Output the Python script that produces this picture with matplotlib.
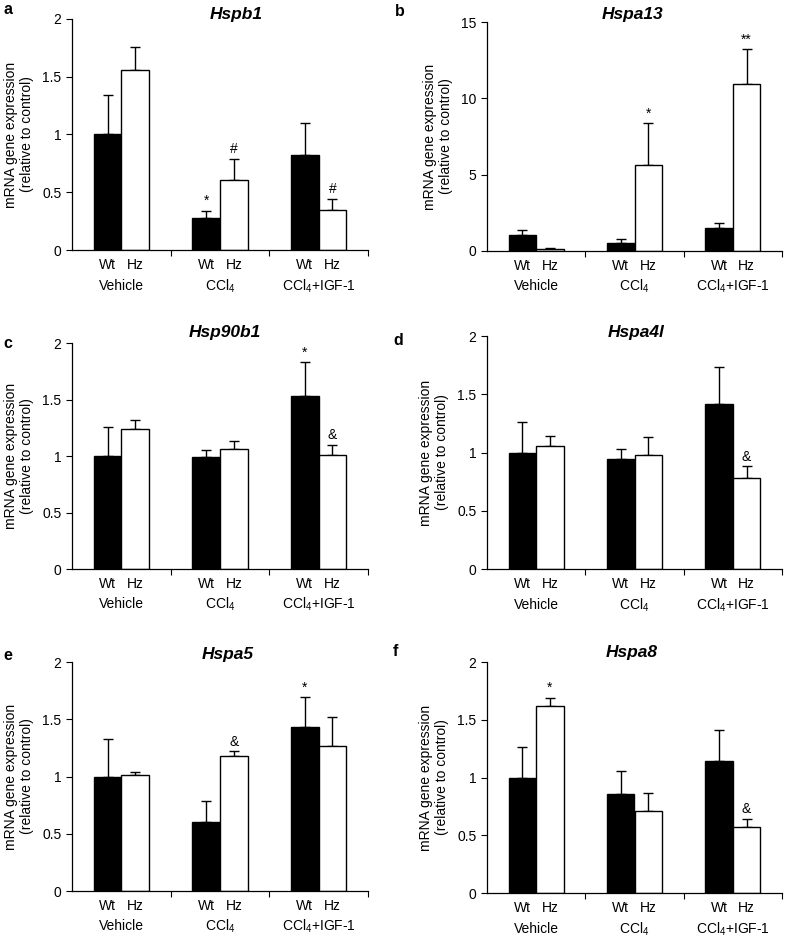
import numpy as np
import matplotlib.pyplot as plt

plt.rcParams['font.family'] = ['Liberation Sans', 'DejaVu Sans']
plt.rcParams['mathtext.fontset'] = 'custom'
plt.rcParams['mathtext.rm'] = 'Liberation Sans'
plt.rcParams['mathtext.it'] = 'Liberation Sans:italic'
plt.rcParams['mathtext.bf'] = 'Liberation Sans:bold'

groups = ['Vehicle', 'CCl$_4$', 'CCl$_4$+IGF-1']
genotypes = ['Wt', 'Hz']
panel_letters = ['a', 'b', 'c', 'd', 'e', 'f']
genes = ['Hspb1', 'Hspa13', 'Hsp90b1', 'Hspa4l', 'Hspa5', 'Hspa8']

# means per group (Vehicle, CCl4, CCl4+IGF-1)
hspb1_wt = [1.00, 0.28, 0.82]
hspb1_hz = [1.56, 0.61, 0.35]
hspa13_wt = [1.03, 0.55, 1.50]
hspa13_hz = [0.11, 5.65, 10.96]
hsp90b1_wt = [1.00, 0.99, 1.53]
hsp90b1_hz = [1.24, 1.06, 1.01]
hspa4l_wt = [1.00, 0.94, 1.42]
hspa4l_hz = [1.06, 0.98, 0.78]
hspa5_wt = [1.00, 0.60, 1.43]
hspa5_hz = [1.01, 1.18, 1.27]
hspa8_wt = [1.00, 0.86, 1.14]
hspa8_hz = [1.62, 0.71, 0.57]

# upper error (SEM)
hspb1_wt_err = [0.34, 0.06, 0.28]
hspb1_hz_err = [0.20, 0.18, 0.09]
hspa13_wt_err = [0.32, 0.21, 0.33]
hspa13_hz_err = [0.06, 2.73, 2.24]
hsp90b1_wt_err = [0.26, 0.06, 0.30]
hsp90b1_hz_err = [0.08, 0.07, 0.09]
hspa4l_wt_err = [0.26, 0.09, 0.31]
hspa4l_hz_err = [0.08, 0.15, 0.10]
hspa5_wt_err = [0.33, 0.19, 0.26]
hspa5_hz_err = [0.03, 0.04, 0.25]
hspa8_wt_err = [0.26, 0.20, 0.27]
hspa8_hz_err = [0.07, 0.16, 0.07]

# significance marks: (group index, genotype index, symbol)
hspb1_marks = [(1, 0, '*'), (1, 1, '#'), (2, 1, '#')]
hspa13_marks = [(1, 1, '*'), (2, 1, '**')]
hsp90b1_marks = [(2, 0, '*'), (2, 1, '&')]
hspa4l_marks = [(2, 1, '&')]
hspa5_marks = [(1, 1, '&'), (2, 0, '*')]
hspa8_marks = [(0, 1, '*'), (2, 1, '&')]

y_max = [2, 15, 2, 2, 2, 2]
y_step = [0.5, 5, 0.5, 0.5, 0.5, 0.5]

means = [(hspb1_wt, hspb1_hz), (hspa13_wt, hspa13_hz), (hsp90b1_wt, hsp90b1_hz),
         (hspa4l_wt, hspa4l_hz), (hspa5_wt, hspa5_hz), (hspa8_wt, hspa8_hz)]
errs = [(hspb1_wt_err, hspb1_hz_err), (hspa13_wt_err, hspa13_hz_err),
        (hsp90b1_wt_err, hsp90b1_hz_err), (hspa4l_wt_err, hspa4l_hz_err),
        (hspa5_wt_err, hspa5_hz_err), (hspa8_wt_err, hspa8_hz_err)]
marks = [hspb1_marks, hspa13_marks, hsp90b1_marks, hspa4l_marks, hspa5_marks, hspa8_marks]

W, H = 785, 938
fig = plt.figure(figsize=(W / 100, H / 100), dpi=100)

# axes boxes in pixels: left, right, top, bottom
boxes = [(72, 368, 19, 250), (487, 782, 22, 251),
         (72, 368, 343, 569), (487, 782, 336, 569),
         (72, 368, 662, 891), (487, 782, 662, 893)]
letter_pos = [(3, 10), (395, 12), (3, 343), (393, 340), (3, 655), (393, 652)]
title_pos = [(236, 15), (633, 15), (225, 332), (636, 332), (228, 655), (632, 653)]

bw = 0.28
x = np.arange(len(groups))

for i in range(6):
    l, r, t, b = boxes[i]
    ax = fig.add_axes([l / W, 1 - b / H, (r - l) / W, (b - t) / H])
    wt, hz = means[i]
    wt_e, hz_e = errs[i]
    for k, (vals, e, col) in enumerate([(wt, wt_e, 'black'), (hz, hz_e, 'white')]):
        pos = x + (k - 0.5) * bw
        ax.bar(pos, vals, width=bw, color=col, edgecolor='black', linewidth=1.0, zorder=2)
        ax.errorbar(pos, vals, yerr=[np.zeros(len(vals)), e], fmt='none', ecolor='black',
                    elinewidth=1.0, capsize=3.5, capthick=1.0, zorder=1)
    for g, k, sym in marks[i]:
        top = means[i][k][g] + errs[i][k][g]
        ax.annotate(sym, (x[g] + (k - 0.5) * bw, top), xytext=(0, 2), textcoords='offset points',
                    ha='center', va='bottom', fontsize=10)

    ax.set_xlim(-0.5, 2.5)
    ax.set_ylim(0, y_max[i])
    ticks = np.arange(0, y_max[i] + y_step[i] / 2, y_step[i])
    ax.set_yticks(ticks)
    ax.set_yticklabels([f'{v:g}' for v in ticks], fontsize=10)
    ax.set_xticks([0.5, 1.5, 2.5])
    ax.set_xticklabels([])
    ax.tick_params(axis='both', direction='out', length=4, width=0.8)
    for s in ['top', 'right']:
        ax.spines[s].set_visible(False)
    for s in ['left', 'bottom']:
        ax.spines[s].set_linewidth(0.9)
    ax.set_ylabel('mRNA gene expression\n(relative to control)', fontsize=10, labelpad=6)

    for g in range(len(groups)):
        for k in range(2):
            ax.text(x[g] + (k - 0.5) * bw, -0.065, genotypes[k], transform=ax.get_xaxis_transform(),
                    ha='center', va='center', fontsize=10)
        ax.text(x[g], -0.155, groups[g], transform=ax.get_xaxis_transform(),
                ha='center', va='center', fontsize=10)

    lx, ly = letter_pos[i]
    fig.text(lx / W, 1 - ly / H, panel_letters[i], fontsize=11.5, fontweight='bold', va='center', ha='left')
    tx, ty = title_pos[i]
    fig.text(tx / W, 1 - ty / H, genes[i], fontsize=12.5, fontweight='bold', fontstyle='italic',
             va='center', ha='center')

fig.savefig('out.png', dpi=100)
